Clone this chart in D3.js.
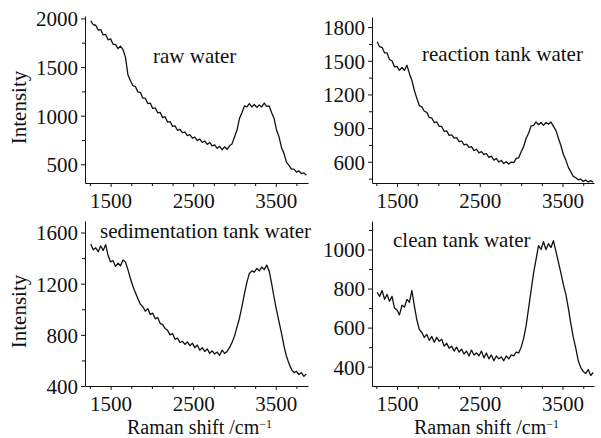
<!DOCTYPE html>
<html>
<head>
<meta charset="utf-8">
<script src="https://cdn.jsdelivr.net/npm/d3@7"></script>
<style>
  body { margin: 0; background: #fff; }
  svg text { font-family: "Liberation Serif", "DejaVu Serif", serif; fill: #111; }
</style>
</head>
<body>
<svg id="svg_raman" width="601" height="438"></svg>
<script>
// Raman shift (cm-1), shared by all four spectra
const shift = [
  1260, 1290, 1320, 1350, 1380, 1410, 1440, 1470, 1500, 1530,
  1560, 1590, 1620, 1650, 1680, 1710, 1740, 1770, 1800, 1830,
  1860, 1890, 1920, 1950, 1980, 2010, 2040, 2070, 2100, 2130,
  2160, 2190, 2220, 2250, 2280, 2310, 2340, 2370, 2400, 2430,
  2460, 2490, 2520, 2550, 2580, 2610, 2640, 2670, 2700, 2730,
  2760, 2790, 2820, 2850, 2880, 2910, 2940, 2970, 3000, 3030,
  3060, 3090, 3120, 3150, 3180, 3210, 3240, 3270, 3300, 3330,
  3360, 3390, 3420, 3450, 3480, 3510, 3540, 3570, 3600, 3630,
  3660, 3690, 3720, 3750, 3780, 3810, 3840, 3870
];

// Intensities
const rawWater = [
  1975, 1935, 1930, 1880, 1885, 1830, 1835, 1780, 1790, 1735,
  1730, 1690, 1715, 1680, 1600, 1420, 1360, 1310, 1300, 1245,
  1240, 1180, 1180, 1125, 1130, 1075, 1080, 1030, 1035, 980,
  990, 935, 940, 890, 895, 850, 860, 825, 830, 795,
  805, 770, 780, 745, 760, 725, 740, 705, 725, 690,
  700, 665, 685, 650, 680, 655, 690, 710, 780, 850,
  970, 1030, 1100, 1090, 1125, 1090, 1115, 1085, 1110, 1090,
  1130, 1095, 1100, 1030, 970, 850, 780, 670, 610, 520,
  490, 450, 450, 420, 432, 405, 412, 388
];

const reactionTank = [
  1670, 1625, 1620, 1570, 1570, 1510, 1500, 1445, 1450, 1415,
  1440, 1415, 1460, 1385, 1325, 1235, 1165, 1100, 1090, 1050,
  1040, 995, 990, 950, 955, 915, 915, 870, 875, 835,
  840, 810, 815, 780, 785, 750, 758, 728, 735, 700,
  712, 680, 690, 665, 672, 640, 650, 615, 630, 598,
  612, 585, 600, 580, 598, 592, 630, 635, 690, 735,
  810, 855, 920, 925, 955, 930, 950, 925, 950, 935,
  955, 915, 880, 810, 745, 665, 615, 550, 510, 470,
  458, 440, 445, 425, 437, 420, 432, 418
];

const sedimentationTank = [
  1510, 1465, 1480, 1450, 1495, 1460, 1505, 1420, 1370, 1380,
  1335, 1360, 1340, 1385, 1370, 1310, 1240, 1180, 1130, 1085,
  1040, 1020, 985, 1005, 960, 970, 925, 935, 890, 880,
  850, 835, 800, 810, 765, 775, 740, 750, 725, 745,
  715, 735, 700, 720, 680, 700, 670, 690, 655, 675,
  650, 665, 640, 680, 655, 670, 700, 740, 790, 860,
  930, 1020, 1120, 1210, 1280, 1300, 1290, 1320, 1300, 1330,
  1310, 1345, 1300, 1200, 1090, 990, 900, 810, 710, 630,
  575, 530, 505, 515, 490, 505, 475, 495
];

const cleanTank = [
  780, 760, 790, 745, 770, 735, 760, 700, 690, 665,
  715, 705, 745, 730, 790, 710, 640, 590, 575, 550,
  565, 535, 555, 525, 550, 530, 540, 505, 520, 495,
  505, 480, 500, 475, 490, 465, 480, 455, 485, 460,
  470, 455, 480, 445, 470, 440, 460, 430, 455, 440,
  450, 430, 455, 440, 460, 455, 475, 470, 500, 545,
  610, 700, 790, 880, 950, 1020, 1000, 1040, 1000, 1030,
  1010, 1045, 990, 935, 880, 820, 770, 700, 620, 550,
  495, 430, 395, 375, 365, 385, 355, 370
];

// Tick labels
const xTickLabels = [1500, 2500, 3500];
const rawTicks = [500, 1000, 1500, 2000];
const reactionTicks = [600, 900, 1200, 1500, 1800];
const sedimentationTicks = [400, 800, 1200, 1600];
const cleanTicks = [400, 600, 800, 1000];

const titles = ['raw water', 'reaction tank water', 'sedimentation tank water', 'clean tank water'];

const panels = [
  { title: titles[0], values: rawWater, yTicks: rawTicks, yMinorStep: 250,
    left: 85, right: 308, top: 16, bottom: 183, xDom: [1190, 3890], yDom: [308, 2025],
    titlePos: [153, 63], yLabel: true, xLabel: false },
  { title: titles[1], values: reactionTank, yTicks: reactionTicks, yMinorStep: 150,
    left: 372, right: 594, top: 17, bottom: 183, xDom: [1198, 3880], yDom: [411, 1890],
    titlePos: [422, 61], yLabel: false, xLabel: false },
  { title: titles[2], values: sedimentationTank, yTicks: sedimentationTicks, yMinorStep: 200,
    left: 85, right: 308, top: 221, bottom: 386, xDom: [1190, 3890], yDom: [400, 1690],
    titlePos: [100, 238], yLabel: true, xLabel: true },
  { title: titles[3], values: cleanTank, yTicks: cleanTicks, yMinorStep: 100,
    left: 372, right: 594, top: 221, bottom: 386, xDom: [1198, 3880], yDom: [301, 1146],
    titlePos: [393, 247], yLabel: false, xLabel: true }
];

const svg = d3.select('#svg_raman');
const fontSize = 21;

panels.forEach((p) => {
  const x = d3.scaleLinear().domain(p.xDom).range([p.left, p.right]);
  const y = d3.scaleLinear().domain(p.yDom).range([p.bottom, p.top]);

  // minor ticks every 250 on x, labelled ones every 1000
  const xMinor = d3.range(1250, p.xDom[1], 250).filter((v) => !xTickLabels.includes(v));
  const yMinor = d3.range(Math.ceil(p.yDom[0] / p.yMinorStep) * p.yMinorStep, p.yDom[1], p.yMinorStep)
    .filter((v) => !p.yTicks.includes(v));

  const g = svg.append('g');

  // x axis
  g.append('g')
    .attr('transform', `translate(0, ${p.bottom})`)
    .call(d3.axisBottom(x).tickValues(xMinor).tickSize(3).tickSizeOuter(0).tickFormat(''))
    .call((a) => a.select('.domain').remove());
  const xa = g.append('g')
    .attr('transform', `translate(0, ${p.bottom})`)
    .call(d3.axisBottom(x).tickValues(xTickLabels).tickSize(4).tickSizeOuter(0).tickFormat(d3.format('d')));
  xa.selectAll('text')
    .attr('y', 24.5)
    .attr('dy', 0)
    .attr('font-size', fontSize);

  // y axis
  g.append('g')
    .attr('transform', `translate(${p.left}, 0)`)
    .call(d3.axisLeft(y).tickValues(yMinor).tickSize(3).tickSizeOuter(0).tickFormat(''))
    .call((a) => a.select('.domain').remove());
  const ya = g.append('g')
    .attr('transform', `translate(${p.left}, 0)`)
    .call(d3.axisLeft(y).tickValues(p.yTicks).tickSize(4).tickSizeOuter(0).tickFormat(d3.format('d')));
  ya.selectAll('text')
    .attr('x', -7)
    .attr('dy', '0.35em')
    .attr('font-size', fontSize);

  g.selectAll('.domain, .tick line').attr('stroke', '#111').attr('stroke-width', 1);
  g.selectAll('text').attr('font-family', null).attr('fill', '#111');

  // spectrum
  const line = d3.line()
    .x((d, i) => x(shift[i]))
    .y((d) => y(d));

  g.append('path')
    .datum(p.values)
    .attr('d', line)
    .attr('fill', 'none')
    .attr('stroke', '#111')
    .attr('stroke-width', 1.3)
    .attr('stroke-linejoin', 'round');

  // panel title
  g.append('text')
    .text(p.title)
    .attr('x', p.titlePos[0])
    .attr('y', p.titlePos[1])
    .attr('font-size', fontSize);

  if (p.yLabel) {
    g.append('text')
      .text('Intensity')
      .attr('transform', `translate(26, ${(p.top + p.bottom) / 2 + 8}) rotate(-90)`)
      .attr('text-anchor', 'middle')
      .attr('font-size', fontSize);
  }

  if (p.xLabel) {
    const t = g.append('text')
      .attr('x', p.left + 42)
      .attr('y', 433.5)
      .attr('font-size', 20);
    t.append('tspan').text('Raman shift /cm');
    t.append('tspan').text('\u22121').attr('dy', -6).attr('font-size', 12);
  }
});
</script>
</body>
</html>
